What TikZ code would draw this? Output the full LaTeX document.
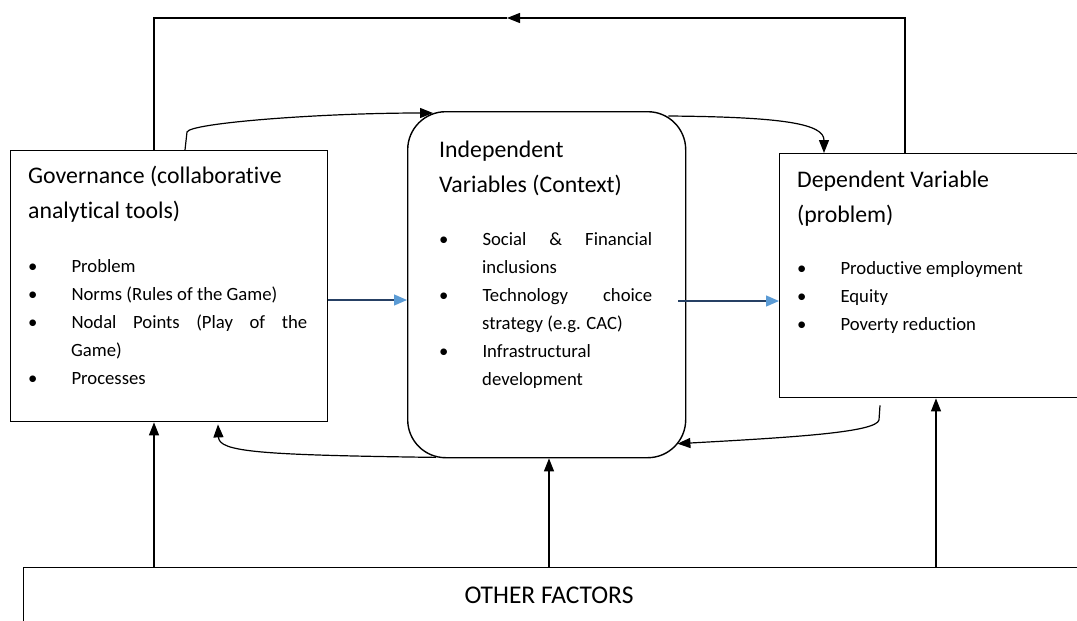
\documentclass[tikz,border=0pt]{standalone}
\usepackage{fontspec}
\setmainfont{Carlito}[Ligatures=NoCommon]
\usepackage{tikz}
\usetikzlibrary{arrows.meta,calc}
\definecolor{flowblue}{RGB}{91,155,213}
\definecolor{flowdark}{RGB}{38,64,100}
\setlength{\parindent}{0pt}
\hyphenpenalty=10000
\exhyphenpenalty=10000
\tolerance=10000
\tikzset{
	framebox/.style = {draw, line width=1.4pt, rectangle, anchor=north west, inner sep=0pt},
	context/.style  = {framebox, rounded corners=38pt},
	boxtext/.style  = {anchor=north west, inner sep=0pt, align=justify},
	wire/.style     = {draw, line width=1.2pt},
	link/.style     = {wire, -{Triangle[length=13pt,width=10pt]}},
	flow/.style     = {draw=flowdark, line width=1.3pt, -{Triangle[length=13pt,width=11pt,color=flowblue]}}
}
\newcommand{\boxtitle}{\fontsize{23.8}{35}\selectfont}
\newcommand{\boxitems}{\fontsize{18.7}{28}\selectfont}
\newenvironment{pointlist}{\begin{list}{\textbullet}{\setlength{\leftmargin}{43pt}\setlength{\labelwidth}{9pt}\setlength{\labelsep}{34pt}\setlength{\itemsep}{0pt}\setlength{\parsep}{0pt}\setlength{\topsep}{0pt}\setlength{\partopsep}{0pt}}}{\end{list}}

\begin{document}
\begin{tikzpicture}[x=1pt, y=-1pt, >=Triangle]
	\useasboundingbox (0,0) rectangle (1077,621);
	\clip (0,0) rectangle (1077,621);
	\draw
	node at (10,150) [framebox, minimum width=317pt, minimum height=271pt] (gov) {}
	node at (407,111) [context, minimum width=278pt, minimum height=346pt] (cen) {}
	node at (779,153) [framebox, minimum width=320pt, minimum height=244pt] (dep) {}
	node at (23,567) [framebox, minimum width=1100pt, minimum height=100pt] (other) {};

	\node at (28,159) [boxtext, text width=279pt] (govtxt) {\boxtitle\rule{0pt}{24pt}Governance (collaborative\par analytical tools)\par
		\boxitems\vspace{26pt}
		\begin{pointlist}
			\item Problem
			\item Norms (Rules of the Game)
			\item Nodal Points (Play of the\linebreak Game)
			\item Processes
		\end{pointlist}};
	\node at (439,133) [boxtext, text width=213pt] (centxt) {\boxtitle\rule{0pt}{24pt}Independent\par Variables (Context)\par
		\boxitems\vspace{25pt}
		\begin{pointlist}
			\item Social \& Financial inclusions
			\item Technology choice strategy (e.g. CAC)
			\item Infrastructural development
		\end{pointlist}};
	\node at (797,163) [boxtext, text width=260pt] (deptxt) {\boxtitle\rule{0pt}{24pt}Dependent Variable\par (problem)\par
		\boxitems\vspace{24pt}
		\begin{pointlist}
			\item Productive employment
			\item Equity
			\item Poverty reduction
		\end{pointlist}};
	\node at (549,595) [font=\fontsize{25.5}{30}\selectfont] (otherlbl) {OTHER FACTORS};

	\coordinate (topR) at (905,18);
	\coordinate (topM) at (507,18);
	\coordinate (topL) at (154,18);
	\coordinate (flowY) at (0,300);
	\coordinate (upC) at (549,0);
	\coordinate (upR) at (936,0);

	\draw[link] (dep.north -| topR) -- (topR) -- (topM);
	\draw[wire] (topM) -- (topL) -- (gov.north -| topL);
	\draw[link] ($(gov.north west)+(175,0)$) -- (187,132) .. controls (190,123) and (320,113) .. ($(cen.north west)+(26,2)$);
	\draw[link] ($(cen.north east)+(-18,5)$) .. controls (785,117) and (824,124) .. ($(dep.north west)+(45,0)$);
	\draw[link] ($(dep.south west)+(101,7)$) -- (879,420) .. controls (876,432) and (800,437) .. ($(cen.east)+(-9,159)$);
	\draw[link] ($(cen.south west)+(29,-1)$) .. controls (260,455) and (219,452) .. ($(gov.south west)+(208,2)$);
	\draw[flow] (gov.east |- flowY) -- (cen.west |- flowY);
	\draw[flow] ($(cen.east |- flowY)+(-8,1)$) -- ($(dep.west |- flowY)+(0,1)$);
	\draw[link] (other.north -| topL) -- (gov.south -| topL);
	\draw[link] (other.north -| upC) -- (cen.south -| upC);
	\draw[link] (other.north -| upR) -- (dep.south -| upR);
\end{tikzpicture}
\end{document}
